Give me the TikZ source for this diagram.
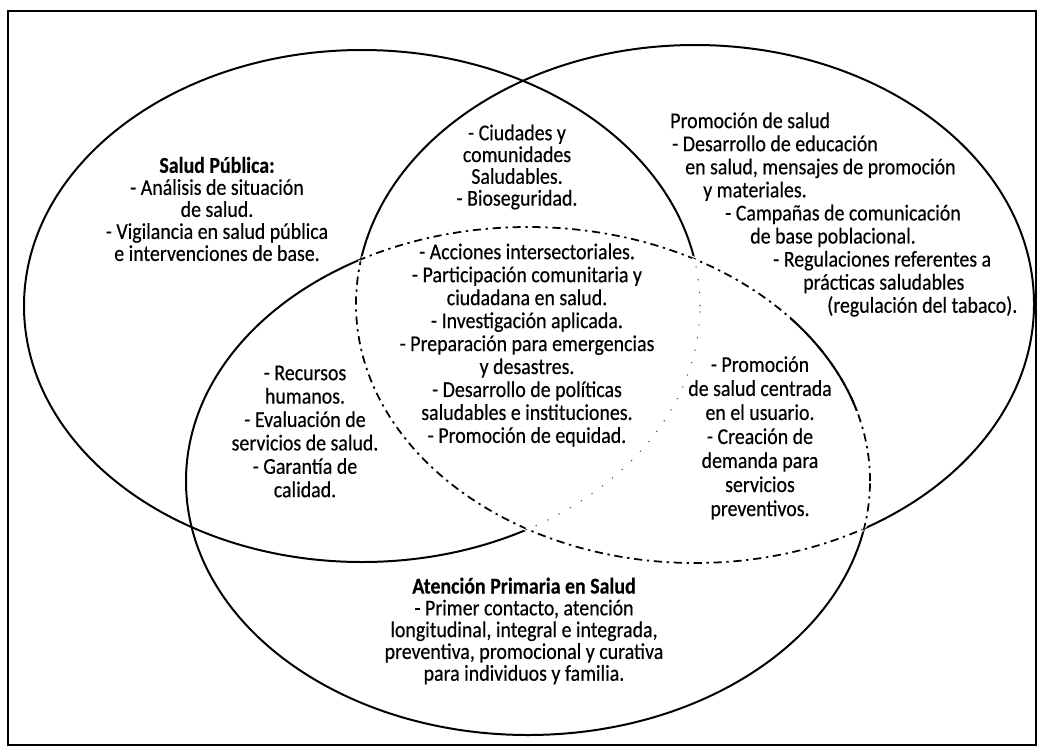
\documentclass[tikz,border=0pt]{standalone}
\usepackage{fontspec}
\setmainfont{Carlito}[FakeStretch=0.88, FakeBold=0.4,
  BoldFont={Carlito Bold}, BoldFeatures={FakeStretch=0.88}]
\begin{document}
\begin{tikzpicture}[x=0.03cm,y=0.03cm,
  venn/.style={line width=1.7pt},
  lens/.style={line width=1.5pt, dash pattern=on 7pt off 4pt on 2pt off 4pt},
  blank/.style={white, line width=3.8pt},
  faint/.style={line width=0.9pt, black!70, dash pattern=on 1pt off 10pt},
  txt/.style={inner sep=0pt, align=center, font=\fontsize{19.3}{19.6}\selectfont},
]
\useasboundingbox (0,0) rectangle (1038,-749);
% outer frame
\draw[line width=1.5pt] (8,-11) rectangle (1036,-745);

% the three sets
\def\vennA{(362,-306) ellipse [x radius=338, y radius=256]}
\def\vennB{(695,-304) ellipse [x radius=339, y radius=259]}
\def\vennC{(528,-481) ellipse [x radius=342, y radius=254]}

\draw[venn] \vennA;
\draw[venn] \vennB;
\draw[venn] \vennC;

% arc of B lying inside C is dashed
\begin{scope}
  \clip \vennC;
  \draw[blank] \vennB;
  \draw[lens] \vennB;
\end{scope}
% arc of C lying inside B is dashed, arc of A inside both is faint
\begin{scope}
  \clip \vennB;
  \draw[blank] \vennC;
  \draw[lens] \vennC;
  \clip \vennC;
  \draw[blank] \vennA;
  \draw[faint] \vennA;
\end{scope}
% short solid stretch of C on the right
\begin{scope}
  \clip (790,-300) rectangle (862,-410);
  \draw[venn] \vennC;
\end{scope}

% texts
\node[txt, font=\fontsize{19.3}{18.8}\selectfont] (sp) at (217,-209)
  {{\bfseries Salud Pública:}\\- Análisis de situación\\de salud.\\- Vigilancia en salud pública\\e intervenciones de base.};

\node[txt, font=\fontsize{19.3}{18.6}\selectfont] (cs) at (517,-167)
  {- Ciudades y\\comunidades\\Saludables.\\- Bioseguridad.};

\node[txt, align=left, anchor=west, font=\fontsize{19.3}{19.7}\selectfont] (ps) at (670,-214.5)
  {Promoción de salud\\
   \hspace*{0.06cm}- Desarrollo de educación\\
   \hspace*{0.45cm}en salud, mensajes de promoción\\
   \hspace*{0.99cm}y materiales.\\
   \hspace*{1.65cm}- Campañas de comunicación\\
   \hspace*{2.4cm}de base poblacional.\\
   \hspace*{3.09cm}- Regulaciones referentes a\\
   \hspace*{3.99cm}prácticas saludables\\
   \hspace*{4.71cm}(regulación del tabaco).};

\node[txt, font=\fontsize{19.3}{19.6}\selectfont] (core) at (527,-345)
  {- Acciones intersectoriales.\\- Participación comunitaria y\\ciudadana en salud.\\- Investigación aplicada.\\- Preparación para emergencias\\y desastres.\\- Desarrollo de políticas\\saludables e instituciones.\\- Promoción de equidad.};

\node[txt, font=\fontsize{19.3}{19.97}\selectfont] (ac) at (305,-431.5)
  {- Recursos\\humanos.\\- Evaluación de\\servicios de salud.\\- Garantía de\\calidad.};

\node[txt, font=\fontsize{19.3}{20.5}\selectfont] (bc) at (760,-438)
  {- Promoción\\de salud centrada\\en el usuario.\\- Creación de\\demanda para\\servicios\\preventivos.};

\node[txt, font=\fontsize{19.3}{18.6}\selectfont] (aps) at (524,-631)
  {{\bfseries Atención Primaria en Salud}\\- Primer contacto, atención\\longitudinal, integral e integrada,\\preventiva, promocional y curativa\\para individuos y familia.};
\end{tikzpicture}
\end{document}
